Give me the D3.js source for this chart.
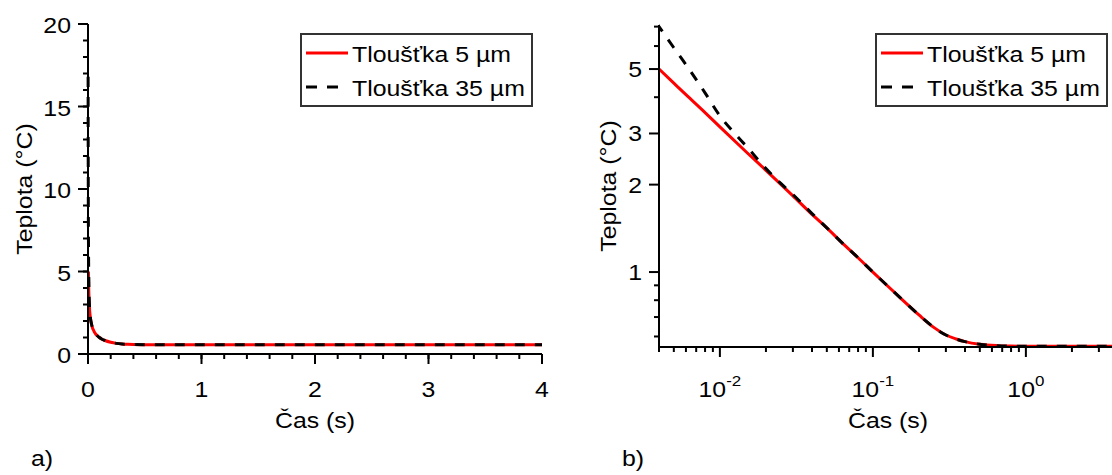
<!DOCTYPE html>
<html>
<head>
<meta charset="utf-8">
<script src="https://cdn.jsdelivr.net/npm/d3@7"></script>
<style>
  body { margin: 0; background: #fff; }
  svg { display: block; }
  text { font-family: "Liberation Sans", Arial, sans-serif; fill: #000; }
</style>
</head>
<body>
<svg id="chart" width="1112" height="475"></svg>
<script>
// data (time in s, temperature in °C)
const time5 = [0.004, 0.005, 0.006, 0.008, 0.01, 0.015, 0.02, 0.03, 0.04, 0.05, 0.065, 0.08, 0.1,
  0.12, 0.15, 0.2, 0.25, 0.3, 0.35, 0.4, 0.5, 0.65, 0.8, 1, 1.5, 2, 3, 4];
const temp5 = [5.0, 4.47, 4.08, 3.54, 3.16, 2.58, 2.24, 1.83, 1.58, 1.42, 1.24, 1.12, 1.0,
  0.913, 0.818, 0.712, 0.645, 0.607, 0.588, 0.576, 0.564, 0.558, 0.556, 0.555, 0.555, 0.555, 0.555, 0.555];

const time35 = [0.001, 0.0015, 0.002, 0.003, 0.004, 0.005, 0.006, 0.008, 0.01, 0.0125, 0.015, 0.02,
  0.025, 0.03, 0.04, 0.05, 0.065, 0.08, 0.1, 0.12, 0.15, 0.2, 0.25, 0.3, 0.35, 0.4, 0.5, 0.65, 0.8, 1, 1.5, 2, 3, 4];
const temp35 = [16.8, 13.5, 11.5, 8.6, 7.0, 5.92, 5.18, 4.14, 3.45, 3.0, 2.7, 2.27,
  2.02, 1.85, 1.59, 1.42, 1.24, 1.12, 1.0, 0.913, 0.818, 0.712, 0.645, 0.607, 0.588, 0.576, 0.564, 0.558, 0.556, 0.555, 0.555, 0.555, 0.555, 0.555];

const seriesNames = ['Tloušťka 5 µm', 'Tloušťka 35 µm'];
const linTicksX = [0, 1, 2, 3, 4];
const linTicksY = [0, 5, 10, 15, 20];
const logTicksX = [0.01, 0.1, 1];
const logTicksY = [1, 2, 3, 5];
const panelTags = ['a)', 'b)'];

const SX = 1.13;   // the source font is a bit wider than Arial
const svg = d3.select('#chart');

const s5 = time5.map((t, i) => ({t: t, v: temp5[i]}));
const s35 = time35.map((t, i) => ({t: t, v: temp35[i]}));

function label(g, x, y, str, anchor, rot) {
  return g.append('text')
    .attr('transform', `translate(${x},${y})` + (rot ? ` rotate(${rot})` : '') + ` scale(${SX},1)`)
    .attr('text-anchor', anchor || 'start')
    .style('font-size', '22px')
    .text(str);
}

function styleAxis(g) {
  g.select('.domain').attr('stroke', '#000').attr('stroke-width', 2);
  g.selectAll('.tick line').attr('stroke', '#000').attr('stroke-width', 2);
  g.attr('font-family', null).attr('font-size', null);
}

function drawLines(g, x, y, clipId) {
  const line = d3.line().x(d => x(d.t)).y(d => y(d.v)).curve(d3.curveMonotoneX);
  const lg = g.append('g').attr('clip-path', `url(#${clipId})`);
  lg.append('path').datum(s5).attr('d', line)
    .attr('fill', 'none').attr('stroke', '#ff0000').attr('stroke-width', 3);
  lg.append('path').datum(s35).attr('d', line)
    .attr('fill', 'none').attr('stroke', '#000').attr('stroke-width', 3)
    .attr('stroke-dasharray', '10,10');
}

function legend(g, x0) {
  g.append('rect').attr('x', x0).attr('y', 34).attr('width', 231).attr('height', 72)
    .attr('fill', '#fff').attr('stroke', '#333').attr('stroke-width', 2);
  g.append('line').attr('x1', x0 + 5).attr('x2', x0 + 47).attr('y1', 53).attr('y2', 53)
    .attr('stroke', '#ff0000').attr('stroke-width', 3);
  g.append('line').attr('x1', x0 + 5).attr('x2', x0 + 47).attr('y1', 87).attr('y2', 87)
    .attr('stroke', '#000').attr('stroke-width', 3).attr('stroke-dasharray', '11,10');
  label(g, x0 + 51, 62, seriesNames[0]);
  label(g, x0 + 51, 96, seriesNames[1]);
}

const defs = svg.append('defs');

// ---- panel a) linear
const xa = d3.scaleLinear().domain([0, 4]).range([88, 542]);
const ya = d3.scaleLinear().domain([0, 20]).range([354, 24]);
defs.append('clipPath').attr('id', 'clipA').append('rect')
  .attr('x', 86).attr('y', 20).attr('width', 460).attr('height', 336);

const pa = svg.append('g');
drawLines(pa, xa, ya, 'clipA');

pa.append('g').attr('transform', 'translate(0,354)')
  .call(d3.axisBottom(xa).tickValues(d3.range(0, 4.001, 0.2)).tickSize(5).tickSizeOuter(0).tickFormat('').offset(0))
  .call(styleAxis);
const axA = pa.append('g').attr('transform', 'translate(0,354)')
  .call(d3.axisBottom(xa).tickValues(linTicksX).tickSize(10).tickSizeOuter(0).tickFormat(d3.format('d')).offset(0))
  .call(styleAxis);
axA.selectAll('.tick text').attr('y', 43).attr('dy', null)
  .attr('transform', `scale(${SX},1)`).style('font-size', '22px');

pa.append('g').attr('transform', 'translate(88,0)')
  .call(d3.axisLeft(ya).tickValues(d3.range(0, 20.001, 1)).tickSize(5).tickSizeOuter(0).tickFormat('').offset(0))
  .call(styleAxis);
const ayA = pa.append('g').attr('transform', 'translate(88,0)')
  .call(d3.axisLeft(ya).tickValues(linTicksY).tickSize(10).tickSizeOuter(0).tickFormat(d3.format('d')).offset(0))
  .call(styleAxis);
ayA.selectAll('.tick text').attr('x', -17 / SX).attr('y', 9).attr('dy', null)
  .attr('transform', `scale(${SX},1)`).style('font-size', '22px');

label(pa, 315, 428, 'Čas (s)', 'middle');
label(pa, 32, 189, 'Teplota (°C)', 'middle', -90);
legend(pa, 301);
label(pa, 31, 466, panelTags[0]);

// ---- panel b) log-log
const xb = d3.scaleLog().domain([0.004, 4]).range([659, 1118]);
const yb = d3.scaleLog().domain([0.552, 7.09]).range([347, 25]);
defs.append('clipPath').attr('id', 'clipB').append('rect')
  .attr('x', 659).attr('y', 20).attr('width', 470).attr('height', 330);

const pb = svg.append('g');
drawLines(pb, xb, yb, 'clipB');

pb.append('g').attr('transform', 'translate(0,347)')
  .call(d3.axisBottom(xb).tickValues(xb.ticks().filter(v => !logTicksX.includes(+v.toPrecision(3))))
    .tickSize(5).tickSizeOuter(0).tickFormat('').offset(0))
  .call(styleAxis);
const axB = pb.append('g').attr('transform', 'translate(0,347)')
  .call(d3.axisBottom(xb).tickValues(logTicksX).tickSize(10).tickSizeOuter(0).tickFormat('').offset(0))
  .call(styleAxis);
axB.selectAll('.tick text').each(function(d) {
  const t = d3.select(this).attr('y', 50).attr('dy', null)
    .attr('transform', `scale(${SX},1)`).style('font-size', '22px');
  t.append('tspan').text('10');
  t.append('tspan').attr('dy', -11).style('font-size', '15px').text(String(Math.round(Math.log10(d))));
});

pb.append('g').attr('transform', 'translate(659,0)')
  .call(d3.axisLeft(yb).tickValues(yb.ticks().filter(v => !logTicksY.includes(+v.toPrecision(3))))
    .tickSize(5).tickSizeOuter(0).tickFormat('').offset(0))
  .call(styleAxis);
const ayB = pb.append('g').attr('transform', 'translate(659,0)')
  .call(d3.axisLeft(yb).tickValues(logTicksY).tickSize(10).tickSizeOuter(0).tickFormat(d3.format('d')).offset(0))
  .call(styleAxis);
ayB.selectAll('.tick text').attr('x', -17 / SX).attr('y', 8).attr('dy', null)
  .attr('transform', `scale(${SX},1)`).style('font-size', '22px');

label(pb, 888, 428, 'Čas (s)', 'middle');
label(pb, 616, 186, 'Teplota (°C)', 'middle', -90);
legend(pb, 876);
label(pb, 622, 466, panelTags[1]);
</script>
</body>
</html>
